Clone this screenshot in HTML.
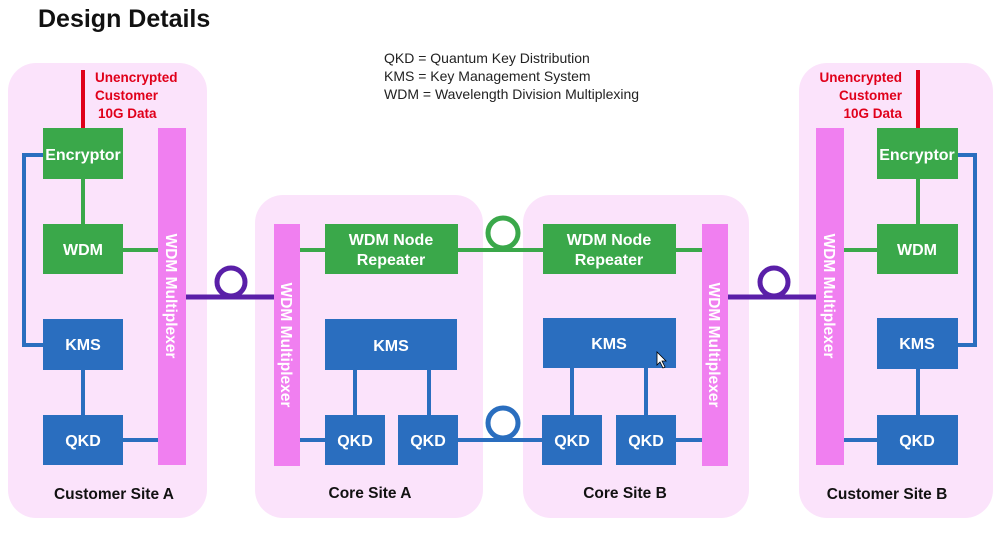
<!DOCTYPE html>
<html><head><style>
body{margin:0;background:#fff;}
svg text{font-family:"Liberation Sans",sans-serif;}
</style></head><body>
<svg width="1000" height="537" viewBox="0 0 1000 537" xmlns="http://www.w3.org/2000/svg">
<rect width="1000" height="537" fill="#fff"/>
<text x="38" y="27" font-size="25" font-weight="bold" fill="#111">Design Details</text>
<g font-size="14" fill="#222">
<text x="384" y="63">QKD = Quantum Key Distribution</text>
<text x="384" y="81">KMS = Key Management System</text>
<text x="384" y="99">WDM = Wavelength Division Multiplexing</text>
</g>
<g fill="#fbe3fb">
<rect x="8" y="63" width="199" height="455" rx="28"/>
<rect x="255" y="195" width="228" height="323" rx="28"/>
<rect x="523" y="195" width="226" height="323" rx="28"/>
<rect x="799" y="63" width="194" height="455" rx="28"/>
</g>
<g stroke="#e0001a" stroke-width="4">
<line x1="83" y1="70" x2="83" y2="128"/>
<line x1="918" y1="70" x2="918" y2="128"/>
</g>
<g font-size="13.5" font-weight="bold" fill="#e0001a">
<text x="95" y="82">Unencrypted</text><text x="95" y="100">Customer</text><text x="98" y="118">10G Data</text>
<text x="902" y="82" text-anchor="end">Unencrypted</text><text x="902" y="100" text-anchor="end">Customer</text><text x="902" y="118" text-anchor="end">10G Data</text>
</g>
<g fill="none" stroke-width="4">
<path d="M43 155 H24 V345 H43" stroke="#2a6ebf"/>
<path d="M958 155 H975 V345 H958" stroke="#2a6ebf"/>
<line x1="83" y1="370" x2="83" y2="415" stroke="#2a6ebf"/>
<line x1="918" y1="369" x2="918" y2="415" stroke="#2a6ebf"/>
<line x1="123" y1="440" x2="158" y2="440" stroke="#2a6ebf"/>
<line x1="844" y1="440" x2="877" y2="440" stroke="#2a6ebf"/>
<line x1="83" y1="179" x2="83" y2="224" stroke="#3aa84a"/>
<line x1="918" y1="179" x2="918" y2="224" stroke="#3aa84a"/>
<line x1="123" y1="250" x2="158" y2="250" stroke="#3aa84a"/>
<line x1="844" y1="250" x2="877" y2="250" stroke="#3aa84a"/>
<line x1="186" y1="297" x2="274" y2="297" stroke="#5a1fa8" stroke-width="5"/>
<circle cx="231" cy="282" r="14" stroke="#5a1fa8" stroke-width="5"/>
<line x1="728" y1="297" x2="816" y2="297" stroke="#5a1fa8" stroke-width="5"/>
<circle cx="774" cy="282" r="14" stroke="#5a1fa8" stroke-width="5"/>
<line x1="300" y1="250" x2="325" y2="250" stroke="#3aa84a"/>
<line x1="458" y1="250" x2="543" y2="250" stroke="#3aa84a"/>
<line x1="676" y1="250" x2="702" y2="250" stroke="#3aa84a"/>
<circle cx="503" cy="233" r="15" stroke="#3aa84a" stroke-width="5"/>
<line x1="300" y1="440" x2="325" y2="440" stroke="#2a6ebf"/>
<line x1="458" y1="440" x2="542" y2="440" stroke="#2a6ebf"/>
<line x1="676" y1="440" x2="702" y2="440" stroke="#2a6ebf"/>
<circle cx="503" cy="423" r="15" stroke="#2a6ebf" stroke-width="5"/>
<line x1="355" y1="370" x2="355" y2="415" stroke="#2a6ebf"/>
<line x1="429" y1="370" x2="429" y2="415" stroke="#2a6ebf"/>
<line x1="572" y1="368" x2="572" y2="415" stroke="#2a6ebf"/>
<line x1="646" y1="368" x2="646" y2="415" stroke="#2a6ebf"/>
</g>
<g fill="#f07ff0">
<rect x="158" y="128" width="28" height="337"/>
<rect x="274" y="224" width="26" height="242"/>
<rect x="702" y="224" width="26" height="242"/>
<rect x="816" y="128" width="28" height="337"/>
</g>
<g font-size="15.5" font-weight="bold" fill="#fff" text-anchor="middle">
<text transform="translate(166,296) rotate(90)">WDM Multiplexer</text>
<text transform="translate(281,345) rotate(90)">WDM Multiplexer</text>
<text transform="translate(709,345) rotate(90)">WDM Multiplexer</text>
<text transform="translate(824,296) rotate(90)">WDM Multiplexer</text>
</g>
<g fill="#3aa84a">
<rect x="43" y="128" width="80" height="51"/>
<rect x="43" y="224" width="80" height="50"/>
<rect x="877" y="128" width="81" height="51"/>
<rect x="877" y="224" width="81" height="50"/>
<rect x="325" y="224" width="133" height="50"/>
<rect x="543" y="224" width="133" height="50"/>
</g>
<g fill="#2a6ebf">
<rect x="43" y="319" width="80" height="51"/>
<rect x="43" y="415" width="80" height="50"/>
<rect x="877" y="318" width="81" height="51"/>
<rect x="877" y="415" width="81" height="50"/>
<rect x="325" y="319" width="132" height="51"/>
<rect x="325" y="415" width="60" height="50"/>
<rect x="398" y="415" width="60" height="50"/>
<rect x="543" y="318" width="133" height="50"/>
<rect x="542" y="415" width="60" height="50"/>
<rect x="616" y="415" width="60" height="50"/>
</g>
<g font-size="16" font-weight="bold" fill="#fff" text-anchor="middle">
<text x="83" y="160">Encryptor</text>
<text x="83" y="255">WDM</text>
<text x="83" y="350">KMS</text>
<text x="83" y="446">QKD</text>
<text x="917" y="160">Encryptor</text>
<text x="917" y="255">WDM</text>
<text x="917" y="349">KMS</text>
<text x="917" y="446">QKD</text>
<text x="391" y="245">WDM Node</text>
<text x="391" y="265">Repeater</text>
<text x="609" y="245">WDM Node</text>
<text x="609" y="265">Repeater</text>
<text x="391" y="351">KMS</text>
<text x="609" y="349">KMS</text>
<text x="355" y="446">QKD</text>
<text x="428" y="446">QKD</text>
<text x="572" y="446">QKD</text>
<text x="646" y="446">QKD</text>
</g>
<g font-size="15.5" font-weight="bold" fill="#111" text-anchor="middle">
<text x="114" y="499">Customer Site A</text>
<text x="370" y="498">Core Site A</text>
<text x="625" y="498">Core Site B</text>
<text x="887" y="499">Customer Site B</text>
</g>
<path d="M657 352 L657 365 L660 362 L663 368 L665 367 L662 361 L666 361 Z" fill="#fff" stroke="#000" stroke-width="0.8"/>
</svg>
</body></html>
